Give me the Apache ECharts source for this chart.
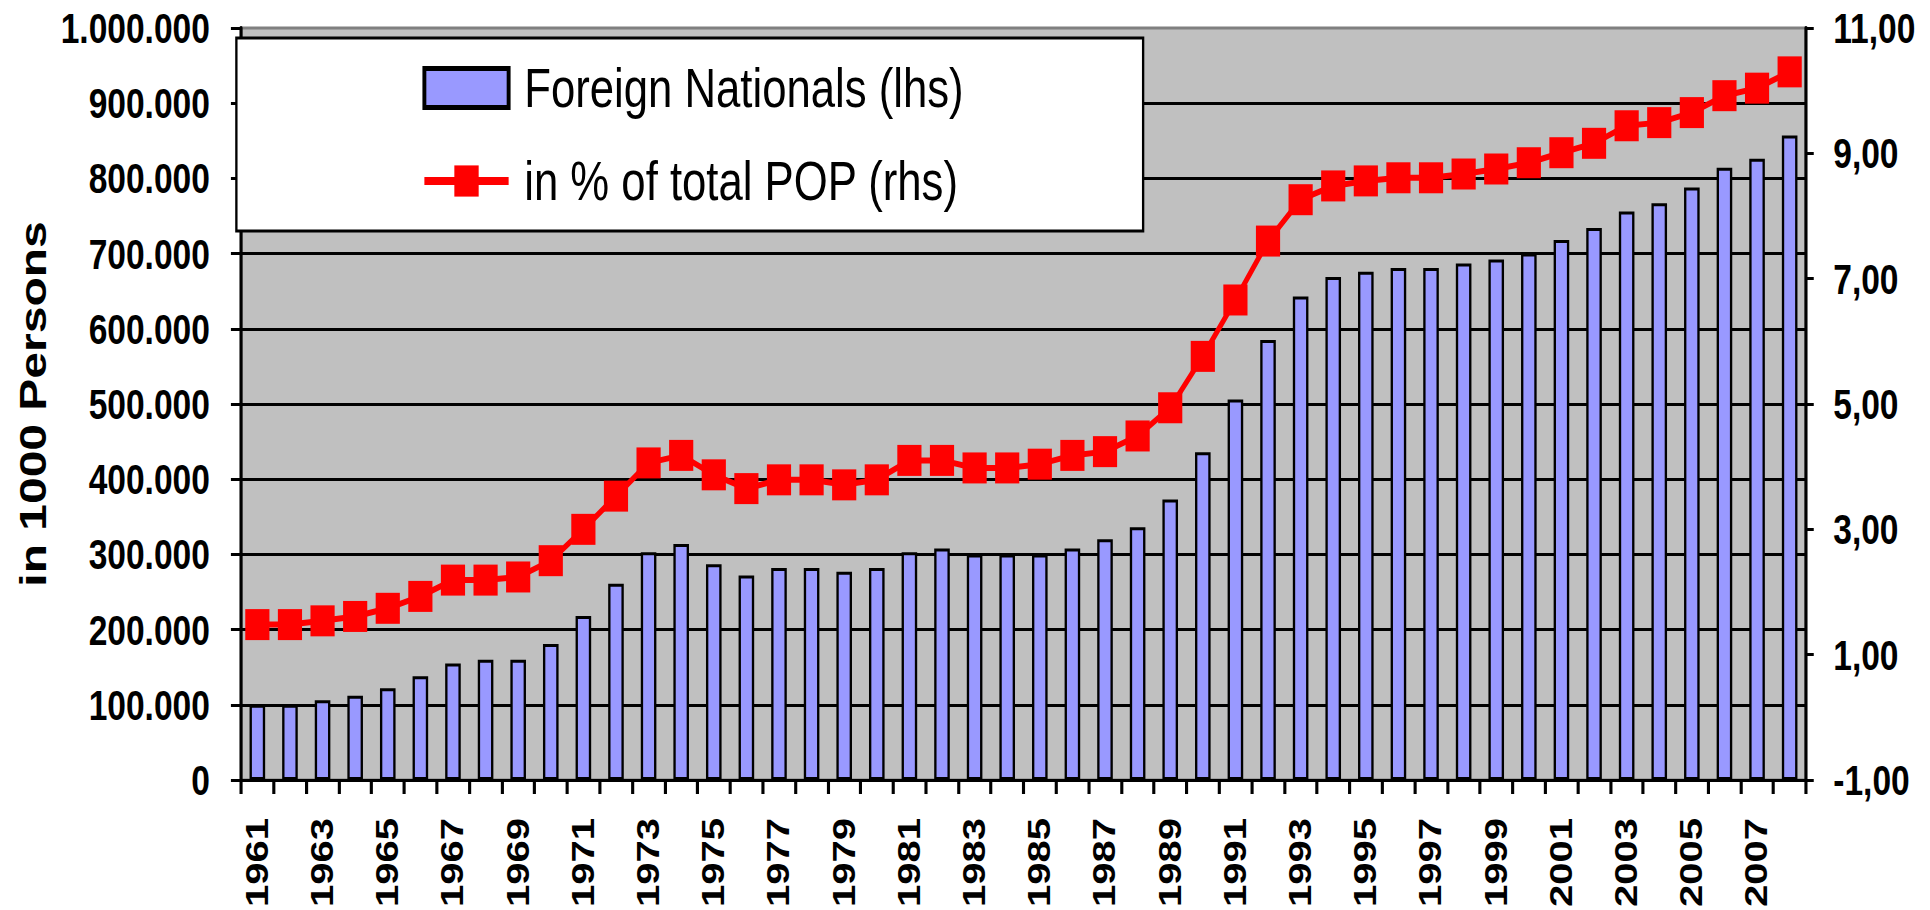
<!DOCTYPE html>
<html>
<head>
<meta charset="utf-8">
<script src="https://cdn.jsdelivr.net/npm/echarts@6/dist/echarts.min.js"></script>
<style>
html,body{margin:0;padding:0;background:#ffffff;overflow:hidden;width:1930px;height:910px;}
#chart{width:2474px;height:910px;transform:scaleX(0.78011);transform-origin:0 0;}
</style>
</head>
<body>
<div id="chart"></div>
<script>
// ---- data ----
const years = ['1961','1962','1963','1964','1965','1966','1967','1968','1969','1970',
  '1971','1972','1973','1974','1975','1976','1977','1978','1979','1980',
  '1981','1982','1983','1984','1985','1986','1987','1988','1989','1990',
  '1991','1992','1993','1994','1995','1996','1997','1998','1999','2000',
  '2001','2002','2003','2004','2005','2006','2007','2008'];

const foreignNationals = [100000,100000,106000,112000,122000,138000,155000,160000,160000,181000,
  218000,261000,303000,314000,287000,272000,282000,282000,277000,282000,
  303000,308000,300000,300000,300000,308000,320000,336000,373000,436000,
  506000,585000,643000,669000,676000,681000,681000,687000,692000,700000,
  718000,734000,756000,767000,788000,814000,826000,857000];

const shareOfTotalPop = [1.48,1.48,1.54,1.61,1.74,1.93,2.19,2.19,2.24,2.50,
  3.00,3.53,4.06,4.18,3.87,3.65,3.79,3.79,3.71,3.79,
  4.10,4.10,3.98,3.98,4.04,4.18,4.24,4.49,4.94,5.76,
  6.66,7.60,8.26,8.48,8.56,8.61,8.61,8.67,8.75,8.85,
  9.01,9.16,9.44,9.49,9.65,9.92,10.04,10.30];

const seriesNames = ['Foreign Nationals (lhs)', 'in % of total POP (rhs)'];
const leftAxisName = 'in 1000 Persons';
const leftAxisRange = {min: 0, max: 1000000, interval: 100000};
const rightAxisRange = {min: -1, max: 11, interval: 2};

// ---- helpers ----
const FONT = '"Liberation Sans", Arial, sans-serif';
function fmtThousands(v) {
  return String(v).replace(/\B(?=(\d{3})+(?!\d))/g, '.');
}
function fmtDecimalComma(v) {
  return v.toFixed(2).replace('.', ',');
}

const chart = echarts.init(document.getElementById('chart'), null, {renderer: 'svg'});

const option = {
  animation: false,
  backgroundColor: '#ffffff',
  grid: {
    left: 309, right: 159, top: 28, bottom: 123,
    show: true,
    backgroundColor: '#C0C0C0',
    borderColor: '#808080',
    borderWidth: 3,
    containLabel: false
  },
  legend: {
    orient: 'vertical',
    left: 303,
    top: 38,
    padding: [20, 230, 20, 237],
    backgroundColor: '#ffffff',
    borderColor: '#000000',
    borderWidth: 3,
    itemWidth: 108,
    itemHeight: 39,
    itemGap: 33,
    textStyle: {
      fontFamily: FONT,
      fontSize: 56,
      color: '#000000',
      lineHeight: 60,
      padding: [0, 0, 0, 15]
    },
    data: [
      {name: seriesNames[0], icon: 'rect', itemStyle: {color: '#9999FF', borderColor: '#000000', borderWidth: 5}},
      {name: seriesNames[1], lineStyle: {color: '#FF0000', width: 8}}
    ]
  },
  xAxis: {
    type: 'category',
    data: years,
    boundaryGap: true,
    axisLine: {show: true, onZero: false, lineStyle: {color: '#000000', width: 3}},
    axisTick: {show: true, interval: 0, length: 14, lineStyle: {color: '#000000', width: 4}},
    axisLabel: {
      interval: 1,
      rotate: 90,
      margin: 38,
      fontFamily: FONT,
      fontWeight: 'bold',
      fontSize: 40,
      color: '#000000'
    },
    splitLine: {show: false}
  },
  yAxis: [
    {
      type: 'value',
      position: 'left',
      min: leftAxisRange.min,
      max: leftAxisRange.max,
      interval: leftAxisRange.interval,
      name: leftAxisName,
      nameLocation: 'middle',
      nameGap: 240,
      nameTextStyle: {fontFamily: FONT, fontWeight: 'bold', fontSize: 48, color: '#000000'},
      axisLine: {show: true, lineStyle: {color: '#000000', width: 4}},
      axisTick: {show: true, length: 13, lineStyle: {color: '#000000', width: 3}},
      axisLabel: {
        margin: 40,
        fontFamily: FONT,
        fontWeight: 'bold',
        fontSize: 43,
        color: '#000000',
        formatter: fmtThousands
      },
      splitLine: {show: true, showMinLine: true, showMaxLine: false, lineStyle: {color: '#000000', width: 3}}
    },
    {
      type: 'value',
      position: 'right',
      min: rightAxisRange.min,
      max: rightAxisRange.max,
      interval: rightAxisRange.interval,
      axisLine: {show: true, lineStyle: {color: '#000000', width: 4}},
      axisTick: {show: true, length: 10, lineStyle: {color: '#000000', width: 3}},
      axisLabel: {
        margin: 35,
        fontFamily: FONT,
        fontWeight: 'bold',
        fontSize: 43,
        color: '#000000',
        formatter: fmtDecimalComma
      },
      splitLine: {show: false}
    }
  ],
  series: [
    {
      name: seriesNames[0],
      type: 'bar',
      yAxisIndex: 0,
      data: foreignNationals,
      barWidth: 20,
      itemStyle: {color: '#9999FF', borderColor: '#000000', borderWidth: 3},
      z: 2
    },
    {
      name: seriesNames[1],
      type: 'line',
      yAxisIndex: 1,
      data: shareOfTotalPop,
      symbol: 'rect',
      symbolSize: 31,
      showSymbol: true,
      showAllSymbol: true,
      lineStyle: {color: '#FF0000', width: 6},
      itemStyle: {color: '#FF0000'},
      z: 3
    }
  ]
};

chart.setOption(option);
</script>
</body>
</html>
